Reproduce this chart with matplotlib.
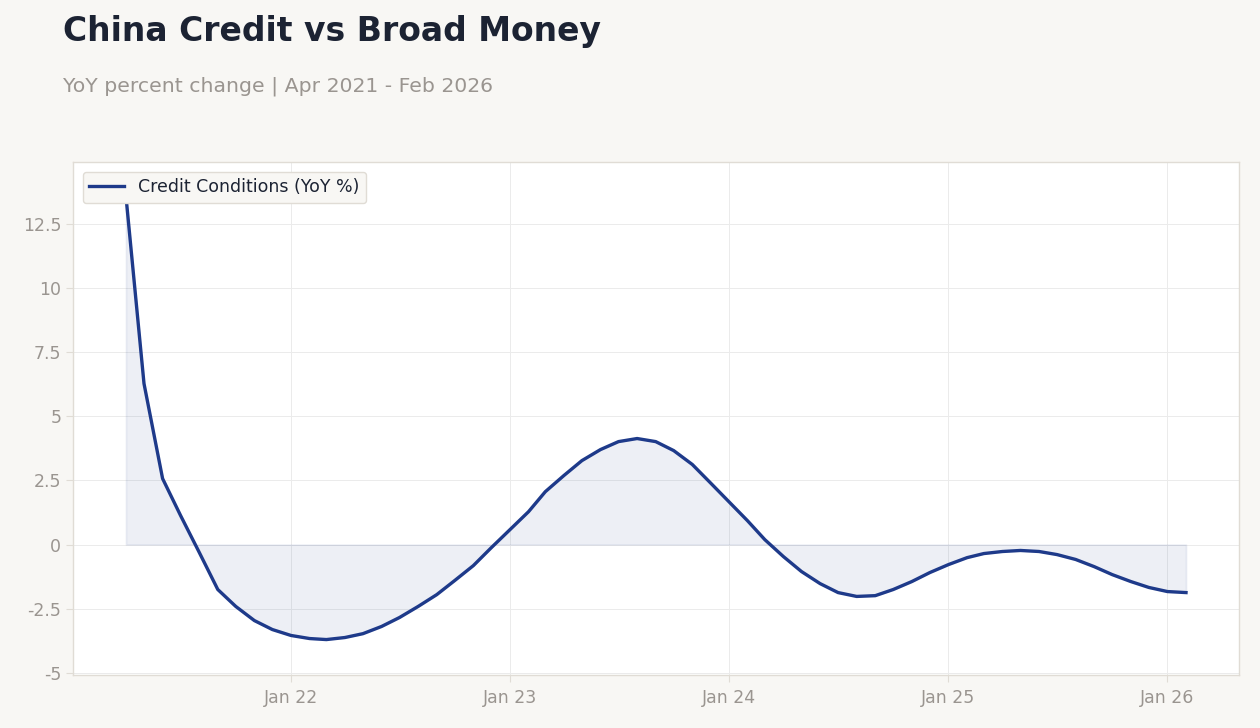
import matplotlib
matplotlib.use("Agg")
import matplotlib.pyplot as plt
import matplotlib.dates as mdates
import pandas as pd
import numpy as np

# Data
months = pd.date_range("2021-04-01", "2026-02-01", freq="MS")
credit_yoy = [
    13.55, 6.27, 2.57, 1.13, -0.30, -1.75, -2.41, -2.96, -3.31,
    -3.54, -3.66, -3.70, -3.62, -3.47, -3.19, -2.84, -2.41, -1.95, -1.40, -0.82, -0.12,
    0.58, 1.28, 2.06, 2.69, 3.27, 3.70, 4.01, 4.13, 4.01, 3.66, 3.12, 2.41,
    1.67, 0.93, 0.19, -0.47, -1.05, -1.52, -1.87, -2.02, -1.99, -1.75, -1.44, -1.09,
    -0.78, -0.51, -0.35, -0.27, -0.23, -0.27, -0.39, -0.58, -0.86, -1.17, -1.44, -1.67,
    -1.83, -1.87,
]
series_label = "Credit Conditions (YoY %)"
title = "China Credit vs Broad Money"
subtitle = "YoY percent change | Apr 2021 - Feb 2026"
y_ticks = [-5, -2.5, 0, 2.5, 5, 7.5, 10, 12.5]
y_tick_labels = ["-5", "-2.5", "0", "2.5", "5", "7.5", "10", "12.5"]

BG = "#f8f7f4"
LINE = "#1e3a8a"
TICK = "#9a9590"
SPINE = "#e0dcd5"

fig = plt.figure(figsize=(12.6, 7.28), dpi=100, facecolor=BG)
ax = fig.add_axes([73 / 1260, 1 - 675 / 728, (1239 - 73) / 1260, (675 - 162) / 728])
ax.set_facecolor("white")

ax.fill_between(months, 0, credit_yoy, facecolor=LINE, alpha=0.08,
                edgecolor=LINE, linewidth=1.2)
ax.plot(months, credit_yoy, color=LINE, linewidth=2.4, label=series_label)

ax.set_ylim(-5.08, 14.9)
ax.set_yticks(y_ticks)
ax.set_yticklabels(y_tick_labels)
ax.xaxis.set_major_locator(mdates.YearLocator(1, month=1, day=1))
ax.xaxis.set_major_formatter(mdates.DateFormatter("Jan %y"))
ax.margins(x=0.05)

ax.grid(True, color="#ebebeb", linewidth=0.7)
ax.set_axisbelow(True)
for s in ax.spines.values():
    s.set_color(SPINE)
    s.set_linewidth(1.0)
ax.tick_params(axis="both", colors=SPINE, labelcolor=TICK, labelsize=12.5, length=5)
ax.tick_params(axis="x", pad=5)

leg = ax.legend(loc="upper left", fontsize=12.5, frameon=True, facecolor=BG,
                edgecolor=SPINE, framealpha=1.0, handlelength=2.0,
                borderaxespad=0.55)
for t in leg.get_texts():
    t.set_color("#1c2333")

fig.text(63 / 1260, 1 - 31 / 728, title, fontsize=23.75, fontweight="bold",
         color="#1c2333", va="center", ha="left")
fig.text(63 / 1260, 1 - 86 / 728, subtitle, fontsize=14.7, color="#9a9590",
         va="center", ha="left")

fig.savefig("out.png", dpi=100, facecolor=BG)
